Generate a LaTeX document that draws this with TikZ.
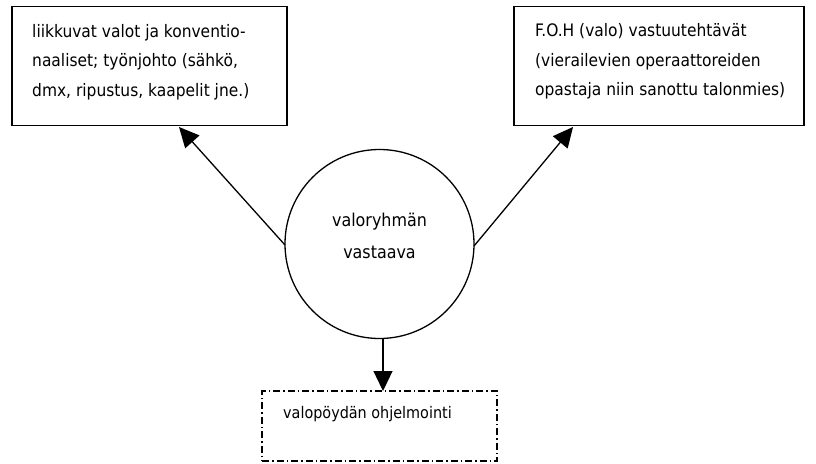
\documentclass[tikz,border=0pt]{standalone}
\usepackage{fontspec}
\setmainfont{DejaVu Sans Condensed}
\usetikzlibrary{arrows.meta}
\begin{document}
\begin{tikzpicture}[x=1pt,y=-1pt,
  box/.style={draw, line width=1.6pt, inner sep=0pt},
  txt/.style={inner sep=0pt, align=left, font=\fontsize{17.2}{29.5}\selectfont},
  ctxt/.style={inner sep=0pt, align=center, font=\fontsize{17.7}{32}\selectfont},
  ptext/.style={inner sep=0pt, font=\fontsize{16}{20}\selectfont},
  conn/.style={line width=1.3pt, -{Triangle[length=20pt,width=19pt]}, shorten >=0pt}
]
\useasboundingbox (0,0) rectangle (816,463);
% boxes
\node[box, minimum width=275pt, minimum height=119pt] (lbox) at (149.5,66) {};
\node[box, minimum width=290pt, minimum height=119pt] (rbox) at (659,66) {};
\node[draw, line width=1.3pt, dash pattern=on 7pt off 3pt on 1.5pt off 3pt,
      minimum width=235pt, minimum height=70pt] (pbox) at (379.5,426) {};
% centre circle
\node[draw, circle, line width=1.3pt, minimum size=189pt, inner sep=0pt] (c) at (379.5,244) {};
% texts
\node[txt, anchor=north west] (ltxt) at (32,24) {liikkuvat valot ja konventio-\\naaliset; työnjohto (sähkö,\\dmx, ripustus, kaapelit jne.)};
\node[txt, anchor=north west] (rtxt) at (535,23.5) {F.O.H (valo) vastuutehtävät\\(vierailevien operaattoreiden\\opastaja niin sanottu talonmies)};
\node[ctxt, anchor=north] (ctx) at (379.5,213) {valoryhmän\\vastaava};
\node[ptext, anchor=base west] (ptxt) at (283,418) {valopöydän ohjelmointi};
% connectors
\coordinate (lt) at (179,127);
\coordinate (rt) at (573,127);
\coordinate (cl) at (285,245);
\coordinate (cr) at (474,246);
\coordinate (cb) at (383,338);
\coordinate (pt) at (383,391);
\draw[conn] (cl) -- (lt);
\draw[conn] (cr) -- (rt);
\draw[conn] (cb) -- (pt);
\end{tikzpicture}
\end{document}
